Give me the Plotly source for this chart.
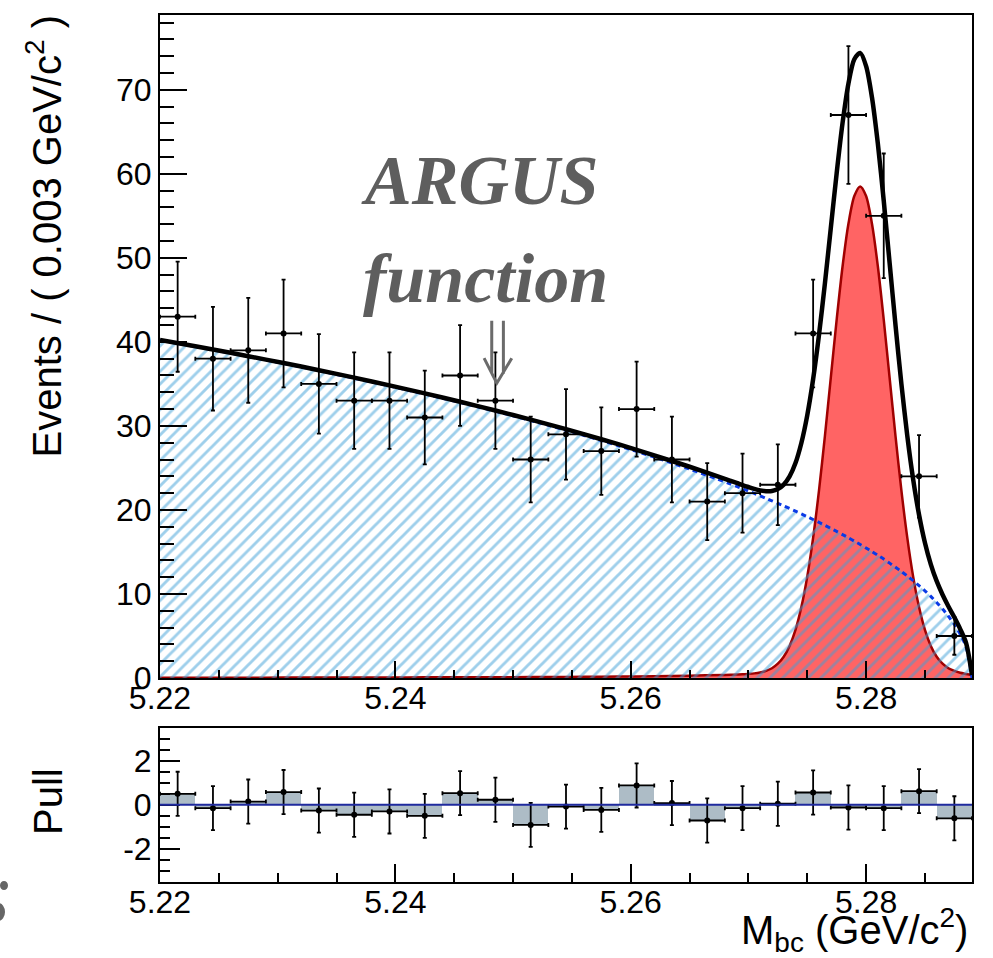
import numpy as np
import plotly.graph_objects as go

# ---- binned data: M_bc in 0.003 GeV/c^2 bins from 5.22 to 5.289 ----
events = [43, 38, 39, 41, 35, 33, 33, 31, 36, 33, 26, 29, 27, 32, 26, 21, 22, 23, 41, 67, 55, 24, 5]
pulls = [0.50, -0.15, 0.15, 0.58, -0.26, -0.45, -0.30, -0.50, 0.53, 0.23, -0.91, -0.08,
         -0.23, 0.88, 0.08, -0.71, -0.15, 0.05, 0.56, -0.12, -0.15, 0.62, -0.61]

bin_width = 0.003
edges = np.round(5.22 + bin_width * np.arange(len(events) + 1), 4)
centers = (edges[:-1] + edges[1:]) / 2
errors = np.sqrt(np.array(events, dtype=float))

# ---- fit components sampled along M_bc ----
mass_grid = np.concatenate([
    np.round(np.arange(5.220, 5.2651, 0.003), 4),
    np.round(np.arange(5.2680, 5.28901, 0.0005), 4),
])
argus_bkg = [40.20, 39.44, 38.66, 37.85, 37.01, 36.13, 35.23, 34.28, 33.30, 32.27, 31.20, 30.07,
             28.88, 27.63, 26.29, 24.86,
             23.34, 23.07, 22.80, 22.52, 22.24, 21.96, 21.67, 21.38, 21.09, 20.78, 20.48, 20.17,
             19.85, 19.53, 19.20, 18.86, 18.52, 18.17, 17.81, 17.44, 17.07, 16.69, 16.29, 15.89,
             15.47, 15.04, 14.60, 14.15, 13.67, 13.18, 12.67, 12.14, 11.58, 10.99, 10.37, 9.71,
             8.99, 8.21, 7.35, 6.37, 5.20, 3.68, 0.00]
signal = [0.03, 0.03, 0.04, 0.04, 0.05, 0.06, 0.06, 0.07, 0.08, 0.09, 0.10, 0.12,
          0.14, 0.17, 0.21, 0.28,
          0.36, 0.38, 0.41, 0.44, 0.49, 0.55, 0.66, 0.85, 1.16, 1.70, 2.53, 3.82,
          5.73, 8.44, 12.06, 16.70, 22.33, 28.79, 35.72, 42.64, 48.97, 54.05, 57.35, 58.50,
          57.35, 54.05, 48.97, 42.64, 35.72, 28.79, 22.33, 16.70, 12.06, 8.44, 5.73, 3.82,
          2.53, 1.70, 1.16, 0.85, 0.62, 0.48, 0.35]
total_fit = np.array(argus_bkg) + np.array(signal)

FONT = "Liberation Sans, Arial, Helvetica, sans-serif"
SMOOTH = 0.8

fig = go.Figure()

# signal component (filled red)
fig.add_trace(go.Scatter(
    x=mass_grid, y=signal, mode="lines", fill="tozeroy", fillcolor="#ff6464",
    line=dict(color="#a00000", width=2.5, shape="spline", smoothing=SMOOTH),
    xaxis="x", yaxis="y", hoverinfo="skip", showlegend=False))

# ARGUS background (hatched)
fig.add_trace(go.Scatter(
    x=mass_grid, y=argus_bkg, mode="lines", fill="tozeroy", fillcolor="rgba(0,0,0,0)",
    fillpattern=dict(shape="/", fgcolor="#3d9fd8", bgcolor="rgba(0,0,0,0)", size=9, solidity=0.32),
    line=dict(width=0, shape="spline", smoothing=SMOOTH),
    xaxis="x", yaxis="y", hoverinfo="skip", showlegend=False))

# ARGUS background outline (dashed blue)
fig.add_trace(go.Scatter(
    x=mass_grid, y=argus_bkg, mode="lines",
    line=dict(color="#0a3ae6", width=3, dash="5px,4px", shape="spline", smoothing=SMOOTH),
    xaxis="x", yaxis="y", hoverinfo="skip", showlegend=False))

# total fit
fig.add_trace(go.Scatter(
    x=mass_grid, y=total_fit, mode="lines",
    line=dict(color="black", width=4.5, shape="spline", smoothing=SMOOTH),
    xaxis="x", yaxis="y", hoverinfo="skip", showlegend=False))

# data points
fig.add_trace(go.Scatter(
    x=centers, y=events, mode="markers",
    marker=dict(color="black", size=6),
    error_x=dict(type="constant", value=bin_width / 2, color="black", thickness=1.8, width=2),
    error_y=dict(type="data", array=errors, color="black", thickness=1.8, width=2),
    xaxis="x", yaxis="y", showlegend=False))

# pull histogram
fig.add_trace(go.Bar(
    x=centers, y=pulls, width=bin_width,
    marker=dict(color="#adbcc6", line=dict(width=0)),
    xaxis="x2", yaxis="y2", hoverinfo="skip", showlegend=False))

fig.add_trace(go.Scatter(
    x=centers, y=pulls, mode="markers",
    marker=dict(color="black", size=6),
    error_x=dict(type="constant", value=bin_width / 2, color="black", thickness=1.8, width=2),
    error_y=dict(type="constant", value=1.0, color="black", thickness=1.8, width=2),
    xaxis="x2", yaxis="y2", showlegend=False))

tickfont = dict(family=FONT, size=32, color="black")
common_axis = dict(showline=True, mirror=True, linecolor="black", linewidth=2,
                   ticks="inside", tickcolor="black", tickwidth=1.5,
                   showgrid=False, zeroline=False, tickfont=tickfont)

x_range = [5.22, 5.289]

fig.update_layout(
    width=993, height=958, autosize=False,
    margin=dict(l=160, r=21, t=15, b=76),
    paper_bgcolor="white", plot_bgcolor="white",
    bargap=0,
    xaxis=dict(domain=[0, 1], anchor="y", range=x_range, tick0=5.22, dtick=0.02,
               tickformat=".2f", ticklen=17, ticklabelstandoff=-9,
               minor=dict(tick0=5.22, dtick=0.005, ticklen=8, tickwidth=1.5,
                          tickcolor="black", ticks="inside", showgrid=False),
               **common_axis),
    yaxis=dict(domain=[0.2353, 1], anchor="x", range=[0, 78.9], tick0=0, dtick=10,
               ticklen=27,
               minor=dict(tick0=0, dtick=2, ticklen=14, tickwidth=1.5,
                          tickcolor="black", ticks="inside", showgrid=False),
               **common_axis),
    xaxis2=dict(domain=[0, 1], anchor="y2", range=x_range, tick0=5.22, dtick=0.02,
                tickformat=".2f", ticklen=18, ticklabelstandoff=-9,
                minor=dict(tick0=5.22, dtick=0.005, ticklen=9, tickwidth=1.5,
                           tickcolor="black", ticks="inside", showgrid=False),
                **common_axis),
    yaxis2=dict(domain=[0, 0.178], anchor="x2", range=[-3.5, 3.5],
                tickmode="array", tickvals=[-2, 0, 2], ticktext=["-2", "0", "2"],
                ticklen=20,
                minor=dict(tickmode="linear", tick0=0, dtick=0.5, ticklen=10, tickwidth=1.5,
                           tickcolor="black", ticks="inside", showgrid=False),
                **common_axis),
)

# zero line of the pull panel
fig.add_shape(type="line", xref="x2 domain", x0=0, x1=1, yref="y2", y0=0, y1=0,
              line=dict(color="#1f2a9e", width=2), layer="above")

# double arrow pointing at the ARGUS shape
fig.add_shape(type="path", xref="x", yref="y",
              path="M 5.24819,42.5 L 5.24819,36.2 M 5.24918,42.5 L 5.24918,36.2 "
                   "M 5.24754,38.06 L 5.24862,35.08 L 5.24989,38.06",
              line=dict(color="#6b6b6b", width=3), layer="above")

# small grey glyph fragment at the lower-left edge
fig.add_shape(type="circle", xref="paper", yref="paper",
              x0=-0.19704, x1=-0.18719, y0=-0.00923, y1=0.00115,
              fillcolor="#666666", line=dict(width=0))
fig.add_shape(type="circle", xref="paper", yref="paper",
              x0=-0.2069, x1=-0.19089, y0=-0.04498, y1=-0.02422,
              fillcolor="#666666", line=dict(width=0))

serif = dict(family="Liberation Serif, Times New Roman, serif", size=70, color="#5e5e5e")
fig.add_annotation(text="<b><i>ARGUS</i></b>", x=5.24711, y=59.2, xref="x", yref="y",
                   showarrow=False, font=serif, xanchor="center", yanchor="middle")
fig.add_annotation(text="<b><i>function</i></b>", x=5.24763, y=47.6, xref="x", yref="y",
                   showarrow=False, font=serif, xanchor="center", yanchor="middle")

title_font = dict(family=FONT, size=40, color="black")
fig.add_annotation(text="Events / ( 0.003 GeV/c<sup>2</sup> )", textangle=-90,
                   x=-0.1429, y=0.7445, xref="paper", yref="paper",
                   xanchor="center", yanchor="middle", showarrow=False, font=title_font)
fig.add_annotation(text="Pull", textangle=-90,
                   x=-0.1379, y=0.0923, xref="paper", yref="paper",
                   xanchor="center", yanchor="middle", showarrow=False, font=title_font)
fig.add_annotation(text="M<sub>bc</sub> (GeV/c<sup>2</sup>)",
                   x=0.9975, y=-0.0554, xref="paper", yref="paper",
                   xanchor="right", yanchor="middle", showarrow=False, font=title_font)

fig.write_html("out.html")
